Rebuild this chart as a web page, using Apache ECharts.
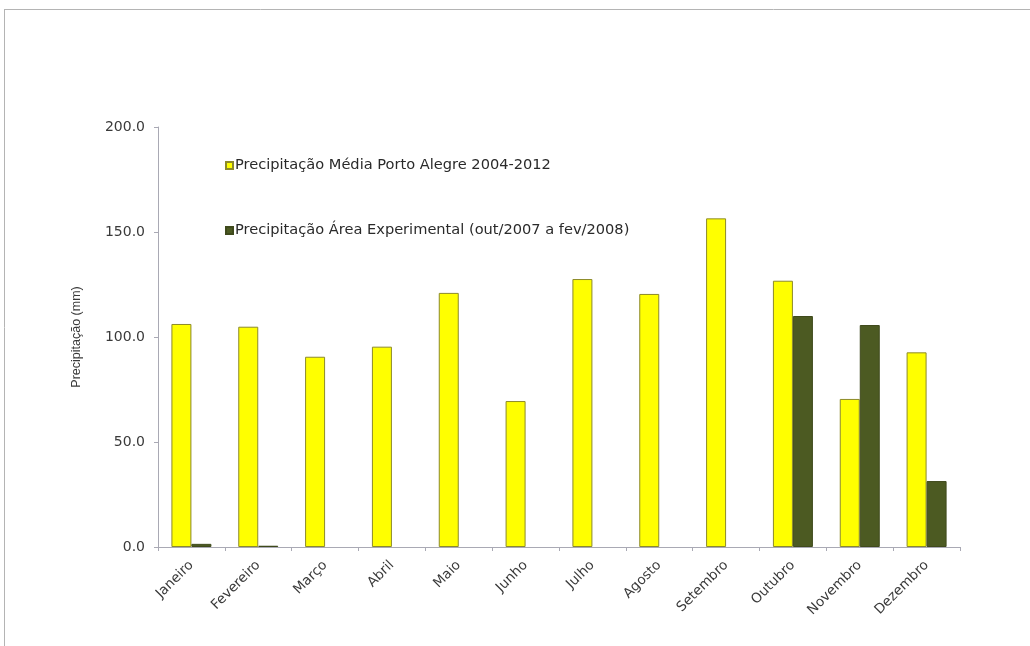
<!DOCTYPE html>
<html>
<head>
<meta charset="utf-8">
<title>Precipitação mensal</title>
<script src="https://cdn.jsdelivr.net/npm/echarts@6/dist/echarts.min.js"></script>
<style>
  html, body { margin: 0; padding: 0; background: #ffffff; }
  #chart { width: 1030px; height: 646px; }
</style>
</head>
<body>
<div id="chart"></div>
<script>
// Months on the category axis
const months = ['Janeiro', 'Fevereiro', 'Março', 'Abril', 'Maio', 'Junho',
                'Julho', 'Agosto', 'Setembro', 'Outubro', 'Novembro', 'Dezembro'];

// Mean monthly rainfall, Porto Alegre 2004-2012 (mm)
const mediaPortoAlegre = [106.2, 104.9, 90.6, 95.4, 121.0, 69.5,
                          127.6, 120.5, 156.5, 126.8, 70.5, 92.7];

// Rainfall measured in the experimental area, Oct/2007 to Feb/2008 (mm)
const areaExperimental = [1.5, 0.6, null, null, null, null,
                          null, null, null, 110.0, 105.7, 31.4];

const seriesNames = [
  'Precipitação Média Porto Alegre 2004-2012',
  'Precipitação Área Experimental (out/2007 a fev/2008)'
];

const yTicks = { min: 0, max: 200, interval: 50 };

const wideFont = 'DejaVu Sans, Verdana, sans-serif';
const narrowFont = 'Liberation Sans, Arial, sans-serif';
const textColor = '#3a3a3a';
const axisColor = '#a9a9b4';

const chart = echarts.init(document.getElementById('chart'), null, { renderer: 'canvas' });

chart.setOption({
  backgroundColor: '#ffffff',
  animation: false,
  graphic: [
    // thin frame around the chart area (top and left edges)
    { type: 'line', shape: { x1: 4, y1: 9.5, x2: 1030, y2: 9.5 },
      style: { stroke: '#b4b4b4', lineWidth: 1 } },
    { type: 'line', shape: { x1: 4.5, y1: 9, x2: 4.5, y2: 646 },
      style: { stroke: '#b4b4b4', lineWidth: 1 } }
  ],
  legend: {
    orient: 'vertical',
    left: 220,
    top: 153,
    itemGap: 50,
    itemWidth: 7,
    itemHeight: 7,
    icon: 'rect',
    textStyle: { fontFamily: wideFont, fontSize: 14.6, color: '#2a2a2a', padding: [0, 0, 0, -3] },
    data: seriesNames
  },
  grid: { left: 158, right: 70, top: 127, bottom: 99, containLabel: false },
  xAxis: {
    type: 'category',
    data: months,
    axisLine: { lineStyle: { color: axisColor, width: 1 } },
    axisTick: { show: true, length: 4, lineStyle: { color: axisColor } },
    axisLabel: {
      rotate: 45,
      margin: 16,
      fontFamily: wideFont,
      fontSize: 13.6,
      color: textColor,
      interval: 0
    }
  },
  yAxis: {
    type: 'value',
    min: yTicks.min,
    max: yTicks.max,
    interval: yTicks.interval,
    name: 'Precipitação (mm)',
    nameLocation: 'middle',
    nameGap: 75,
    nameTextStyle: { fontFamily: narrowFont, fontSize: 12.5, color: textColor },
    axisLine: { show: true, lineStyle: { color: axisColor, width: 1 } },
    axisTick: { show: true, length: 4, lineStyle: { color: axisColor } },
    splitLine: { show: false },
    axisLabel: {
      margin: 13,
      fontFamily: wideFont,
      fontSize: 14,
      color: textColor,
      formatter: v => v.toFixed(1)
    }
  },
  series: [
    {
      name: seriesNames[0],
      type: 'bar',
      data: mediaPortoAlegre,
      barWidth: 20,
      barGap: '0%',
      itemStyle: { color: '#ffff00', borderColor: '#8c8a2a', borderWidth: 1 }
    },
    {
      name: seriesNames[1],
      type: 'bar',
      data: areaExperimental,
      barWidth: 20,
      barGap: '0%',
      itemStyle: { color: '#4c5a22', borderColor: '#3f4a1c', borderWidth: 1 }
    }
  ]
});
</script>
</body>
</html>
